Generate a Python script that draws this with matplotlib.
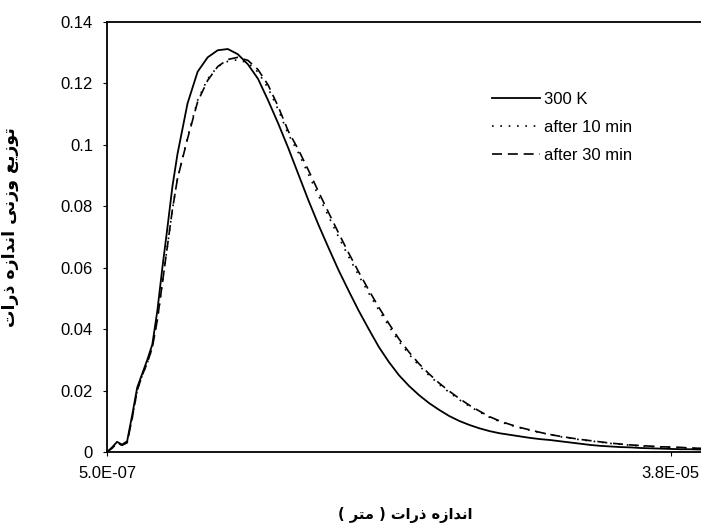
import numpy as np
import matplotlib
matplotlib.use("Agg")
import matplotlib.pyplot as plt

plt.rcParams['font.family'] = ['Liberation Sans', 'DejaVu Sans']

# category positions (Excel style line chart, size classes)
x_pos = [0, 0.5, 1, 1.5, 2, 2.5, 3, 3.5, 4, 4.5, 5, 5.5, 6, 6.5, 7,
         8, 9, 10, 11, 12, 13, 14, 15, 16, 17, 18, 19, 20, 21, 22, 23,
         24, 25, 26, 27, 28, 29, 30, 31, 32, 33, 34, 35, 36, 37, 38, 39,
         40, 41, 42, 43, 44, 45, 46, 47, 48, 49, 50, 51, 52, 53, 54, 55,
         56, 57, 58, 59]

k300 = [0.0, 0.0015, 0.0033, 0.0024, 0.0035, 0.012, 0.021, 0.0255, 0.030, 0.035,
        0.046, 0.060, 0.073, 0.0865, 0.097,
        0.1135, 0.1238, 0.1285, 0.1308, 0.1312, 0.1295, 0.1262, 0.1215, 0.1145, 0.107,
        0.099, 0.0905, 0.082, 0.074, 0.0665, 0.0592, 0.0525, 0.046, 0.040, 0.0342,
        0.0293, 0.0250, 0.0215, 0.0185, 0.0159, 0.0137, 0.0117, 0.0101, 0.0088, 0.0077,
        0.0068, 0.0061, 0.0056, 0.0051, 0.0046, 0.0042, 0.0039, 0.0035, 0.0031, 0.0027,
        0.0023, 0.0020, 0.0018, 0.0016, 0.0015, 0.0013, 0.0012, 0.0011, 0.0010, 0.0009,
        0.0009, 0.0008]

min10 = [0.0, 0.0012, 0.003, 0.0022, 0.003, 0.011, 0.020, 0.025, 0.029, 0.034,
         0.043, 0.055, 0.067, 0.079, 0.089,
         0.1025, 0.1145, 0.1215, 0.1255, 0.1272, 0.1277, 0.1267, 0.1237, 0.1185, 0.1115,
         0.1035, 0.0975, 0.0905, 0.0835, 0.0768, 0.0700, 0.0636, 0.0575, 0.0517, 0.0462,
         0.0410, 0.0360, 0.0318, 0.0281, 0.0249, 0.0220, 0.0194, 0.0170, 0.0149, 0.0130,
         0.0113, 0.0099, 0.0088, 0.0079, 0.0071, 0.0063, 0.0057, 0.0050, 0.0045, 0.0040,
         0.0036, 0.0032, 0.0028, 0.0025, 0.0022, 0.0020, 0.0018, 0.0016, 0.0015, 0.0014,
         0.0012, 0.0011]

min30 = [0.0, 0.0012, 0.003, 0.0022, 0.003, 0.011, 0.020, 0.025, 0.029, 0.034,
         0.043, 0.055, 0.067, 0.079, 0.089,
         0.102, 0.114, 0.121, 0.1255, 0.1278, 0.1285, 0.1275, 0.1245, 0.1195, 0.1125,
         0.1045, 0.0985, 0.0918, 0.0848, 0.078, 0.0713, 0.0648, 0.0586, 0.0527, 0.0471,
         0.0418, 0.0368, 0.0325, 0.0287, 0.0254, 0.0224, 0.0198, 0.0174, 0.0152, 0.0133,
         0.0115, 0.0101, 0.0090, 0.0080, 0.0072, 0.0064, 0.0057, 0.0051, 0.0046, 0.0041,
         0.0037, 0.0033, 0.0029, 0.0026, 0.0023, 0.0021, 0.0019, 0.0017, 0.0016, 0.0015,
         0.0013, 0.0012]

series_names = ['300 K', 'after 10 min', 'after 30 min']
x_ticks = [0, 56]
x_ticklabels = ['5.0E-07', '3.8E-05']
y_ticks = [0, 0.02, 0.04, 0.06, 0.08, 0.1, 0.12, 0.14]
y_ticklabels = ['0', '0.02', '0.04', '0.06', '0.08', '0.1', '0.12', '0.14']

xlabel_fa = 'اندازه ذرات ( متر )'
ylabel_fa = 'توزیع وزنی اندازه ذرات'

# matplotlib does no arabic shaping, so do it by hand (presentation forms)
FORMS = {
    'ا': (0xFE8D, 0xFE8E, None, None),
    'ت': (0xFE95, 0xFE96, 0xFE97, 0xFE98),
    'د': (0xFEA9, 0xFEAA, None, None),
    'ذ': (0xFEAB, 0xFEAC, None, None),
    'ر': (0xFEAD, 0xFEAE, None, None),
    'ز': (0xFEAF, 0xFEB0, None, None),
    'ع': (0xFEC9, 0xFECA, 0xFECB, 0xFECC),
    'م': (0xFEE1, 0xFEE2, 0xFEE3, 0xFEE4),
    'ن': (0xFEE5, 0xFEE6, 0xFEE7, 0xFEE8),
    'ه': (0xFEE9, 0xFEEA, 0xFEEB, 0xFEEC),
    'و': (0xFEED, 0xFEEE, None, None),
    'ی': (0xFEEF, 0xFEF0, 0xFEF3, 0xFEF4),
}


def shape_rtl(s):
    out = []
    for i, ch in enumerate(s):
        if ch not in FORMS:
            out.append(ch)
            continue
        f = FORMS[ch]
        prev = s[i - 1] if i > 0 else ''
        nxt = s[i + 1] if i + 1 < len(s) else ''
        pj = prev in FORMS and FORMS[prev][2] is not None
        nj = f[2] is not None and nxt in FORMS
        if pj and nj:
            c = f[3]
        elif pj:
            c = f[1]
        elif nj:
            c = f[2]
        else:
            c = f[0]
        out.append(chr(c))
    mirror = {'(': ')', ')': '('}
    return ''.join(mirror.get(c, c) for c in reversed(out))


fig = plt.figure(figsize=(7.01, 5.24), dpi=100)
ax = fig.add_axes([107 / 701, 72 / 524, 1 - 107 / 701, 430 / 524])

ax.plot(x_pos, k300, color='black', lw=1.3, label=series_names[0])
ax.plot(x_pos, min10, color='black', lw=1.2, linestyle=(0, (1, 4)), label=series_names[1])
ax.plot(x_pos, min30, color='black', lw=1.2, linestyle=(0, (6, 3.5)), label=series_names[2])

ax.set_xlim(0, 59)
ax.set_ylim(0, 0.14)
ax.set_xticks(x_ticks)
ax.set_xticklabels(x_ticklabels)
ax.set_yticks(y_ticks)
ax.set_yticklabels(y_ticklabels)
ax.tick_params(direction='out', length=3, width=0.8, pad=7, labelsize=12)
ax.spines['right'].set_visible(False)
for side in ['left', 'bottom', 'top']:
    ax.spines[side].set_linewidth(1.3)

ax.legend(loc='upper left', bbox_to_anchor=(477 / 701, 1 - 77 / 524),
          bbox_transform=fig.transFigure, frameon=False, fontsize=12,
          handlelength=2.9, handletextpad=0.2, labelspacing=0.78)

fig.text(405 / 701, 1 - 515 / 524, shape_rtl(xlabel_fa), ha='center', va='center',
         fontsize=10.5, fontweight='bold', family=['DejaVu Sans'])
fig.text(10 / 701, 1 - 227 / 524, shape_rtl(ylabel_fa), ha='center', va='center',
         rotation=90, fontsize=12.5, fontweight='bold', family=['DejaVu Sans'])

fig.savefig('out.png', dpi=100)
